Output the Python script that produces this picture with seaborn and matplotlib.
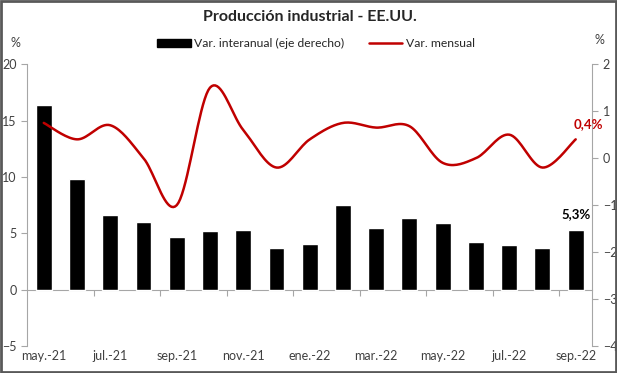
import numpy as np
import pandas as pd
import seaborn as sns
import matplotlib.pyplot as plt
from matplotlib.patches import Rectangle

sns.set_style("white")
plt.rcParams['font.family'] = ['Lato', 'DejaVu Sans']

meses = ["may.-21", "jun.-21", "jul.-21", "ago.-21", "sep.-21", "oct.-21", "nov.-21",
         "dic.-21", "ene.-22", "feb.-22", "mar.-22", "abr.-22", "may.-22", "jun.-22",
         "jul.-22", "ago.-22", "sep.-22"]
interanual = [16.4, 9.8, 6.6, 6.0, 4.7, 5.2, 5.3, 3.7, 4.1, 7.5, 5.5, 6.4, 5.9, 4.2, 4.0, 3.7, 5.3]
mensual = [0.75, 0.4, 0.7, 0.0, -1.0, 1.5, 0.6, -0.2, 0.4, 0.75, 0.65, 0.68, -0.1, 0.0, 0.5, -0.2, 0.4]

gris = "#a6a6a6"
texto = "#404040"
rojo = "#c00000"

fig = plt.figure(figsize=(6.17, 3.73), dpi=100)
ax = fig.add_axes([0.044, 0.072, 0.916, 0.756])

df = pd.DataFrame({"mes": meses, "interanual": interanual})
sns.barplot(data=df, x="mes", y="interanual", color="black", saturation=1,
            width=0.48, ax=ax)
ax.set_xlim(-0.5, len(meses) - 0.5)
ax.set_ylim(-5, 20)
ax.set_yticks(range(-5, 21, 5))
ax.set_xlabel("")
ax.set_ylabel("")
ax.set_xticks(range(0, len(meses), 2))
ax.set_xticklabels(meses[::2])
ax.tick_params(axis="x", length=0, labelsize=9, colors=texto, pad=3)
ax.tick_params(axis="y", length=4, color=gris, labelsize=9, labelcolor=texto, left=True)
for s in ["top", "bottom", "right"]:
    ax.spines[s].set_visible(False)
ax.spines["left"].set_color(gris)

# eje horizontal en cero
sec = ax.secondary_xaxis(0.2)
sec.set_xticks(np.arange(1.5, len(meses), 2))
sec.set_xticklabels([])
sec.tick_params(length=4, color=gris)
sec.spines["bottom"].set_color(gris)

# linea suavizada (bezier estilo Excel)
ax2 = ax.twinx()
x = np.arange(len(mensual), dtype=float)
y = np.array(mensual)
px = np.concatenate([[x[0]], x, [x[-1]]])
py = np.concatenate([[y[0]], y, [y[-1]]])
t = np.linspace(0, 1, 20)[:, None]
xs, ys = [], []
for i in range(len(x) - 1):
    p0 = np.array([px[i + 1], py[i + 1]])
    p3 = np.array([px[i + 2], py[i + 2]])
    p1 = p0 + (p3 - np.array([px[i], py[i]])) / 6
    p2 = p3 - (np.array([px[i + 3], py[i + 3]]) - p0) / 6
    seg = (1 - t) ** 3 * p0 + 3 * (1 - t) ** 2 * t * p1 + 3 * (1 - t) * t ** 2 * p2 + t ** 3 * p3
    xs.extend(seg[:, 0])
    ys.extend(seg[:, 1])
ax2.plot(xs, ys, color=rojo, lw=1.8)
ax2.set_ylim(-4, 2)
ax2.set_yticks(range(-4, 3))
ax2.tick_params(axis="y", length=4, color=gris, labelsize=9, labelcolor=texto, right=True)
for s in ["top", "bottom", "left"]:
    ax2.spines[s].set_visible(False)
ax2.spines["right"].set_color(gris)

ax.text(len(meses) - 1, interanual[-1] + 0.9, "5,3%", ha="center", va="bottom",
        fontsize=9.5, fontweight="bold", color="black")
ax2.text(len(meses) - 1.05, mensual[-1] + 0.2, "0,4%", ha="left", va="bottom",
         fontsize=9.5, fontweight="bold", color=rojo)

fig.text(0.502, 0.955, "Producción industrial - EE.UU.", ha="center", va="center",
         fontsize=11.5, fontweight="bold")
fig.text(0.025, 0.885, "%", ha="center", va="center", fontsize=9, color=texto)
fig.text(0.972, 0.893, "%", ha="center", va="center", fontsize=9, color=texto)

handles = [Rectangle((0, 0), 1, 1, color="black"),
           plt.Line2D([], [], color=rojo, lw=1.8)]
fig.legend(handles, ["Var. interanual (eje derecho)", "Var. mensual"], loc="center",
           bbox_to_anchor=(0.512, 0.883), ncol=2, frameon=False, fontsize=8.7,
           handlelength=2.8, handleheight=0.7, columnspacing=2.0, handletextpad=0.3)

fig.patches.append(Rectangle((0.002, 0.003), 0.996, 0.994, transform=fig.transFigure,
                             fill=False, edgecolor="#595959", lw=2))

fig.savefig("out.png", dpi=100)
